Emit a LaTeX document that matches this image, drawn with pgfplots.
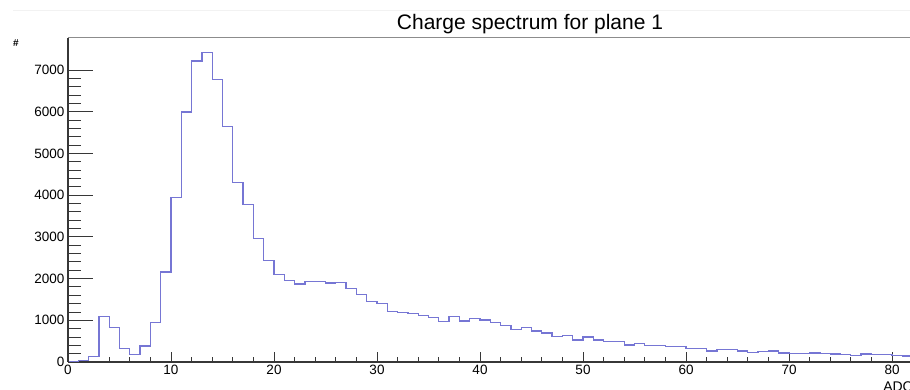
\documentclass[border=0pt]{standalone}
\usepackage{fontspec}
\setmainfont{Liberation Sans}
\usepackage{pgfplots}
\pgfplotsset{compat=1.18}
\definecolor{histc}{RGB}{118,118,212}
\definecolor{axc}{RGB}{55,55,55}
\begin{document}
\begin{tikzpicture}
\useasboundingbox (0pt,0pt) rectangle (910pt,390pt);
\fill[white] (0pt,0pt) rectangle (910pt,390pt);
\draw[black!5, line width=0.8pt] (13pt,380pt) -- (910pt,380pt);
\node[font=\fontsize{21}{21}\selectfont, anchor=base, inner sep=0pt] at (530pt,360pt) {Charge spectrum for plane 1};
\node[font=\bfseries\fontsize{10}{10}\selectfont, anchor=center, inner sep=0pt] at (16pt,347pt) {\#};
\node[font=\fontsize{14}{14}\selectfont, anchor=base east, inner sep=0pt] at (913pt,-2pt) {ADC};
\begin{axis}[at={(68pt,28pt)}, anchor=south west, scale only axis,
  width=849.75pt, height=324pt,
  xmin=0, xmax=82.5, ymin=0, ymax=7770,
  axis x line=bottom, axis y line=left,
  axis line style={-, axc, line width=1.5pt},
  tick align=inside,
  xtick={0,10,...,80}, minor x tick num=4, ytick=\empty,
  major tick length=9.5pt, minor tick length=4.5pt,
  tick style={axc, line width=0.9pt},
  ticklabel style={font=\fontsize{13.5}{13.5}\selectfont},
  /pgf/number format/assume math mode=true,
  clip=false]
\addplot[const plot, draw=histc, line width=1.25pt] coordinates {
(0,5) (1,40) (2,130) (3,1090) (4,825) (5,320) (6,180) (7,385) (8,945) (9,2157)
(10,3945) (11,5997) (12,7217) (13,7425) (14,6767) (15,5653) (16,4306) (17,3777) (18,2967) (19,2437)
(20,2105) (21,1950) (22,1869) (23,1924) (24,1924) (25,1893) (26,1901) (27,1764) (28,1620) (29,1451)
(30,1403) (31,1219) (32,1179) (33,1155) (34,1107) (35,1075) (36,970) (37,1090) (38,986) (39,1050)
(40,1010) (41,954) (42,874) (43,786) (44,834) (45,746) (46,698) (47,617) (48,633) (49,529)
(50,601) (51,529) (52,489) (53,489) (54,409) (55,449) (56,401) (57,393) (58,377) (59,369)
(60,321) (61,321) (62,265) (63,297) (64,297) (65,265) (66,233) (67,249) (68,265) (69,217)
(70,209) (71,200) (72,217) (73,200) (74,193) (75,185) (76,152) (77,193) (78,177) (79,185)
(80,160) (81,145) (82,145)
};
\draw[black!45, line width=1pt] (rel axis cs:0,1) -- (rel axis cs:1,1);
\end{axis}
\begin{axis}[at={(68pt,28pt)}, anchor=south west, scale only axis,
  width=849.75pt, height=324pt,
  xmin=0, xmax=82.5, ymin=0, ymax=7770,
  axis x line=none, axis y line=left,
  axis line style={-, axc, line width=1.5pt},
  tick align=inside,
  xtick=\empty, ytick={0,1000,...,7000}, minor y tick num=4,
  major tick length=25pt, minor tick length=12.5pt,
  tick style={axc, line width=0.9pt},
  ticklabel style={font=\fontsize{13.5}{13.5}\selectfont},
  /pgf/number format/assume math mode=true,
  /pgf/number format/1000 sep={},
  clip=false]
\end{axis}
\end{tikzpicture}
\end{document}
